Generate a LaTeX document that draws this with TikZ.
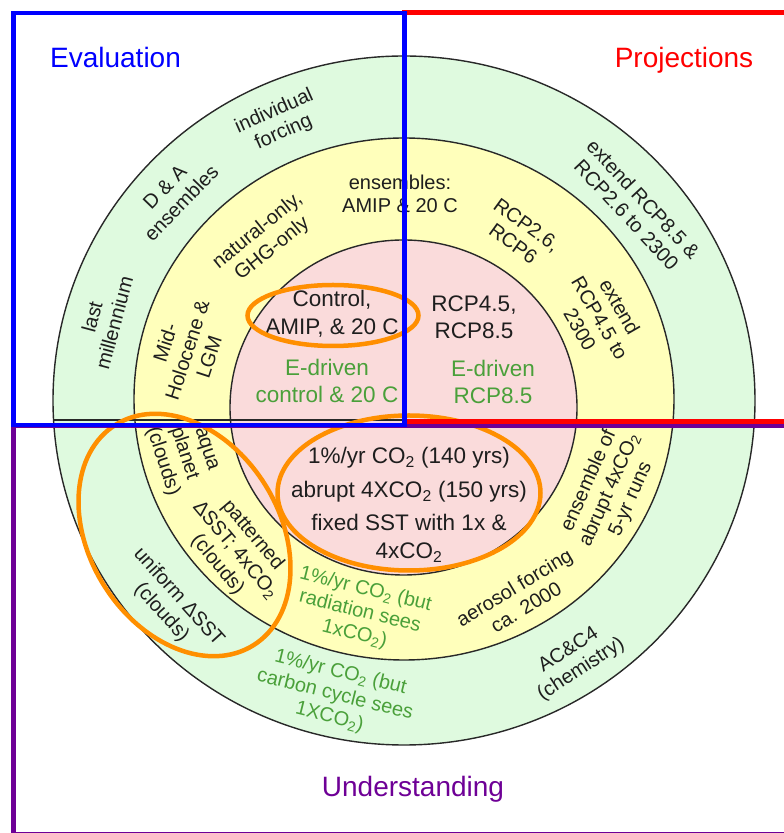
\documentclass[tikz,border=0pt]{standalone}
\usepackage{fontspec}
\setmainfont{Liberation Sans}
\definecolor{ringgreen}{RGB}{223,250,223}
\definecolor{ringyellow}{RGB}{255,255,187}
\definecolor{ringpink}{RGB}{250,219,219}
\definecolor{ringline}{RGB}{40,40,40}
\definecolor{txtdark}{RGB}{30,30,30}
\definecolor{txtgreen}{RGB}{74,160,58}
\definecolor{hiorange}{RGB}{255,143,0}
\definecolor{evalblue}{RGB}{0,0,255}
\definecolor{projred}{RGB}{255,0,0}
\definecolor{undpurple}{RGB}{110,0,150}
\begin{document}
\begin{tikzpicture}[x=1pt,y=1pt,
  ringtxt/.style={font=\fontsize{20}{23}\selectfont, align=center, inner sep=0pt, text=txtdark},
  coretxt/.style={font=\fontsize{22.5}{27.5}\selectfont, align=center, inner sep=0pt, text=txtdark},
  titletxt/.style={font=\fontsize{28}{32}\selectfont, anchor=base, inner sep=0pt},
  hilite/.style={draw=hiorange, line width=4.5pt},
  framebox/.style={line width=4.7pt}]
\useasboundingbox (0,0) rectangle (784,833);
\begin{scope}
\clip (0,0) rectangle (784,833);
% rings
\filldraw[fill=ringgreen, draw=ringline, line width=1.4pt] (404,432.5) ellipse [x radius=351, y radius=344.5];
\filldraw[fill=ringyellow, draw=ringline, line width=1.4pt] (404,434) ellipse [x radius=270, y radius=261];
\filldraw[fill=ringpink, draw=ringline, line width=1.4pt] (403.5,425.5) ellipse [x radius=173.5, y radius=167.5];
\draw[ringline, line width=1.4pt] (53,413) -- (755,413);

% titles
\node[titletxt, text=evalblue] (teval) at (115.5,765.3) {Evaluation};
\node[titletxt, text=projred] (tproj) at (684,765.3) {Projections};
\node[titletxt, text=undpurple] (tund) at (413,36) {Understanding};

% outer and middle ring, upper half
\node[ringtxt, rotate=75] (lastmil) at (103,513) {last\\millennium};
\node[ringtxt, rotate=46] (dna) at (173,638) {D \& A\\ensembles};
\node[ringtxt, rotate=24] (indiv) at (279,711) {individual\\forcing};
\node[ringtxt, rotate=-47] (ext85) at (635,626) {extend RCP8.5 \&\\RCP2.6 to 2300};
\node[ringtxt] (ensamip) at (400,639) {ensembles:\\AMIP \& 20 C};
\node[ringtxt, rotate=39] (natghg) at (265,593) {natural-only,\\GHG-only};
\node[ringtxt, rotate=72] (midhol) at (187,483) {Mid-\\Holocene \&\\LGM};
\node[ringtxt, rotate=-36] (rcp26) at (520,599) {RCP2.6,\\RCP6};
\node[ringtxt, rotate=-60] (ext45) at (600,515) {extend\\RCP4.5 to\\2300};

% lower half
\node[ringtxt, rotate=-72, align=left] (aqua) at (182.9,378.3) {\hspace*{15pt}aqua\\\hspace*{7.5pt}planet\\(clouds)};
\node[ringtxt, rotate=-50] (patt) at (235,283) {patterned\\ΔSST; 4xCO\textsubscript{2}\\(clouds)};
\node[ringtxt, rotate=-14, text=txtgreen] (radsees) at (360,221) {1\%/yr CO\textsubscript{2} (but\\radiation sees\\1xCO\textsubscript{2})};
\node[ringtxt, rotate=31] (aero) at (520,236) {aerosol forcing\\ca. 2000};
\node[ringtxt, rotate=66] (ens4x) at (610,343) {ensemble of\\abrupt 4xCO\textsubscript{2}\\5-yr runs};
\node[ringtxt, rotate=-48] (unif) at (170,228) {uniform ΔSST\\(clouds)};
\node[ringtxt, rotate=-14, text=txtgreen] (carbsees) at (335,138) {1\%/yr CO\textsubscript{2} (but\\carbon cycle sees\\1XCO\textsubscript{2})};
\node[ringtxt, rotate=33] (acc4) at (575,173) {AC\&C4\\(chemistry)};

% core
\node[coretxt] (ctrl) at (332,519) {Control,\\AMIP, \& 20 C};
\node[coretxt] (rcp4585) at (474,515.5) {RCP4.5,\\RCP8.5};
\node[coretxt, text=txtgreen] (edctrl) at (327,452) {E-driven\\control \& 20 C};
\node[coretxt, text=txtgreen] (ed85) at (493,451) {E-driven\\RCP8.5};
\node[coretxt] (idealized) at (409,328) {1\%/yr CO\textsubscript{2} (140 yrs)\\[6pt]abrupt 4XCO\textsubscript{2} (150 yrs)\\[6pt]fixed SST with 1x \&\\4xCO\textsubscript{2}};

% orange highlights
\draw[hilite] (333,517.5) ellipse [x radius=85.5, y radius=30.5];
\draw[hilite] (409,340) ellipse [x radius=131.5, y radius=77.5];
\draw[hilite, rotate around={-58:(184.5,298)}] (184.5,298) ellipse [x radius=130, y radius=95];

% frames
\draw[framebox, draw=undpurple] (13.5,407) rectangle (790,-1);
\draw[framebox, draw=projred] (404.5,820.5) rectangle (790,411.5);
\draw[framebox, draw=evalblue] (13.3,820) rectangle (404.5,408);
\end{scope}
\end{tikzpicture}
\end{document}
